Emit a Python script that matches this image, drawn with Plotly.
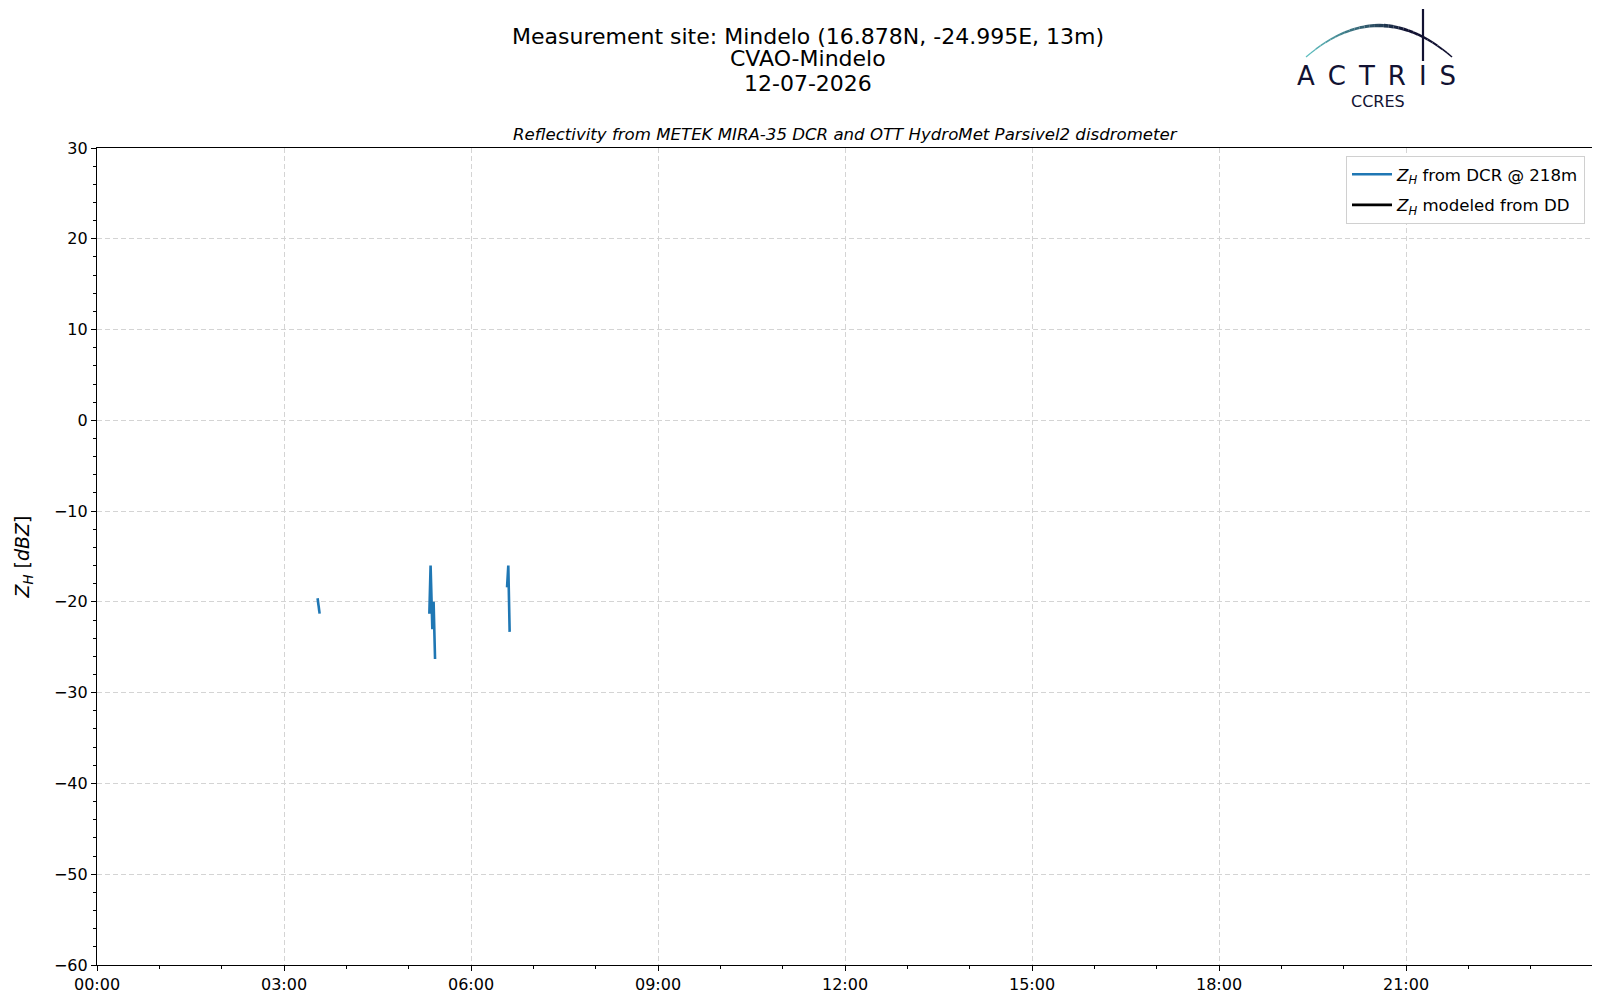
import plotly.graph_objects as go

# ---- data ----
dcr_time = ["2026-07-12 03:32:18", "2026-07-12 03:34:18", None,
            "2026-07-12 05:19:54", "2026-07-12 05:21:06", "2026-07-12 05:22:48",
            "2026-07-12 05:24:00", "2026-07-12 05:25:24", None,
            "2026-07-12 06:34:42", "2026-07-12 06:35:54", "2026-07-12 06:37:12"]
dcr_zh = [-19.6, -21.3, None,
          -21.3, -16.0, -23.0, -20.0, -26.3, None,
          -18.4, -16.0, -23.3]
dd_time = [None]
dd_zh = [None]
tick_labels = ["00:00", "03:00", "06:00", "09:00", "12:00", "15:00", "18:00", "21:00"]
tick_vals = ["2026-07-12 " + t for t in tick_labels]
title_lines = ["Measurement site: Mindelo (16.878N, -24.995E, 13m)", "CVAO-Mindelo", "12-07-2026"]

FONT = "DejaVu Sans"
W, H = 1600, 1000
L, R, T, B = 89, 1585, 140, 957


def px(x):
    return (x - L) / (R - L)


def py(y):
    return (B - y) / (B - T)


fig = go.Figure()
fig.add_trace(go.Scatter(x=dcr_time, y=dcr_zh, mode="lines",
                         line=dict(color="#1f77b4", width=2.6),
                         connectgaps=False, legendgroup="dcr",
                         name="<i>Z</i><sub><i>H</i></sub> from DCR @ 218m"))
fig.add_trace(go.Scatter(x=dd_time, y=dd_zh, mode="lines",
                         line=dict(color="black", width=2.6), legendgroup="dd",
                         name="<i>Z</i><sub><i>H</i></sub> modeled from DD"))

annotations = []
for txt, yy in zip(title_lines, [29, 51, 75]):
    annotations.append(dict(text=txt, x=px(800), y=py(yy), xref="paper", yref="paper",
                            showarrow=False, font=dict(family=FONT, size=22, color="black"),
                            xanchor="center", yanchor="middle"))
LX = -8  # logo horizontal offset
annotations += [
    dict(text="<i>Reflectivity from METEK MIRA-35 DCR and OTT HydroMet Parsivel2 disdrometer</i>",
         x=0.5, y=py(126), xref="paper", yref="paper", showarrow=False,
         font=dict(family=FONT, size=16.6, color="black"),
         xanchor="center", yanchor="middle"),
    dict(text="A\u2002C\u2002T\u2002R\u2002I\u2002S", x=px(1368), y=py(68), xref="paper", yref="paper",
         showarrow=False, font=dict(family=FONT, size=26, color="#121232"),
         xanchor="center", yanchor="middle"),
    dict(text="CCRES", x=px(1370), y=py(93), xref="paper", yref="paper",
         showarrow=False, font=dict(family=FONT, size=16, color="#121232"),
         xanchor="center", yanchor="middle"),
]

# logo arc (decoration) as a gradient of small pieces of a quadratic bezier
shapes = []
p0, pc, p2 = (1306 + LX, 49), (1379 + LX, -14), (1452 + LX, 49)
n = 30
c0, c1 = (95, 195, 195), (16, 16, 48)


def bez(t):
    x = (1 - t) ** 2 * p0[0] + 2 * (1 - t) * t * pc[0] + t ** 2 * p2[0]
    y = (1 - t) ** 2 * p0[1] + 2 * (1 - t) * t * pc[1] + t ** 2 * p2[1]
    return x, y


for i in range(n):
    t0, t1 = i / n, (i + 1) / n
    xa, ya = bez(t0)
    xb, yb = bez(t1)
    f = min(1.0, (t0 + t1) / 2 / 0.7)
    col = "rgb(%d,%d,%d)" % tuple(int(c0[k] + (c1[k] - c0[k]) * f) for k in range(3))
    w = 1.2 + 2.4 * (1 - abs((t0 + t1) - 1.1))
    shapes.append(dict(type="path", xref="paper", yref="paper",
                       path="M %f %f L %f %f" % (px(xa), py(ya), px(xb), py(yb)),
                       line=dict(color=col, width=max(w, 1.2))))
shapes.append(dict(type="line", xref="paper", yref="paper",
                   x0=px(1423 + LX), x1=px(1423 + LX), y0=py(1), y1=py(53),
                   line=dict(color="#121232", width=2.2)))

grid = dict(showgrid=True, gridcolor="#d4d4d4", griddash="5px,3px", gridwidth=1)

fig.update_layout(
    width=W, height=H,
    margin=dict(l=L, r=W - R, t=T, b=H - B, autoexpand=False),
    paper_bgcolor="white", plot_bgcolor="white",
    font=dict(family=FONT, size=16, color="black"),
    showlegend=True,
    legend=dict(x=px(1577), y=py(148), xanchor="right", yanchor="top",
                bgcolor="white", bordercolor="#d0d0d0", borderwidth=1,
                font=dict(family=FONT, size=16.6), tracegroupgap=6,
                itemwidth=40),
    annotations=annotations,
    shapes=shapes,
    xaxis=dict(type="date",
               range=["2026-07-12 00:00", "2026-07-13 00:00"],
               tickvals=tick_vals, ticktext=tick_labels,
               ticks="outside", ticklen=5, tickwidth=1.2, tickcolor="black",
               minor=dict(dtick=3600000, ticks="outside", ticklen=3, tickcolor="black",
                          showgrid=False),
               showline=True, linecolor="black", linewidth=1.3, mirror=True,
               zeroline=False, tickfont=dict(size=16), **grid),
    yaxis=dict(range=[-60, 30], dtick=10, tick0=0,
               ticks="outside", ticklen=5, tickwidth=1.2, tickcolor="black",
               minor=dict(dtick=2, ticks="outside", ticklen=3, tickcolor="black",
                          showgrid=False),
               showline=True, linecolor="black", linewidth=1.3, mirror=True,
               zeroline=False, tickfont=dict(size=16),
               title=dict(text="<i>Z</i><sub><i>H</i></sub> [<i>dBZ</i>]",
                          font=dict(size=19), standoff=19), **grid),
)

fig.write_html("out.html")
